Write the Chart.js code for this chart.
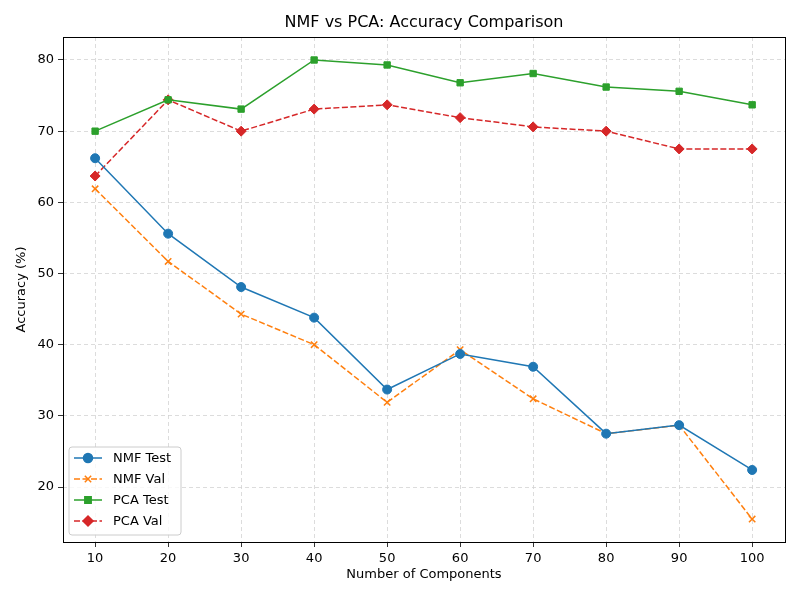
<!DOCTYPE html>
<html>
<head>
<title>NMF vs PCA</title>
<script src="https://cdn.jsdelivr.net/npm/chart.js@4.4.0/dist/chart.umd.min.js"></script>
<style>
  body { margin: 0; background: #fff; }
  canvas { display: block; }
</style>
</head>
<body>
<canvas id="myChart" width="800" height="600"></canvas>
<script>
    var components = [10, 20, 30, 40, 50, 60, 70, 80, 90, 100];
    var nmfTest = [66.2, 55.6, 48.1, 43.8, 33.7, 38.7, 36.9, 27.5, 28.7, 22.4];
    var nmfVal = [61.9, 51.7, 44.3, 40.0, 31.9, 39.3, 32.4, 27.5, 28.7, 15.5];
    var pcaTest = [70.0, 74.4, 73.1, 80.0, 79.3, 76.8, 78.1, 76.2, 75.6, 73.7];
    var pcaVal = [63.7, 74.4, 70.0, 73.1, 73.7, 71.9, 70.6, 70.0, 67.5, 67.5];
    var yTicks = [20, 30, 40, 50, 60, 70, 80];

    var FONT = "'DejaVu Sans', sans-serif";

    function pts(vals){
        return vals.map(function(v, i){ return {x: components[i], y: v}; });
    }

    var series = [
        {label: 'NMF Test', data: nmfTest, color: '#1f77b4', style: 'circle', dash: [], radius: 4.5},
        {label: 'NMF Val', data: nmfVal, color: '#ff7f0e', style: 'crossRot', dash: [6, 2.5], radius: 4.5},
        {label: 'PCA Test', data: pcaTest, color: '#2ca02c', style: 'rect', dash: [], radius: 4.5},
        {label: 'PCA Val', data: pcaVal, color: '#d62728', style: 'rectRot', dash: [6, 2.5], radius: 5}
    ];

    var datasets = series.map(function(s){
        return {
            label: s.label,
            data: pts(s.data),
            borderColor: s.color,
            backgroundColor: s.color,
            borderWidth: 1.5,
            borderDash: s.dash,
            pointStyle: s.style,
            pointRadius: s.radius,
            pointBorderWidth: s.style === 'crossRot' ? 1.5 : 1,
            pointBorderColor: s.color,
            pointBackgroundColor: s.color,
            fill: false,
            tension: 0
        };
    });

    // frame, title, legend drawn by hand to look like the original
    var extras = {
        id: 'extras',
        afterDraw: function(chart){
            var ctx = chart.ctx;
            var a = chart.chartArea;
            ctx.save();
            ctx.strokeStyle = '#000';
            ctx.lineWidth = 1;
            ctx.setLineDash([]);
            ctx.strokeRect(a.left + 0.5, a.top + 0.5, a.right - a.left, a.bottom - a.top);

            ctx.fillStyle = '#000';
            ctx.font = '16px ' + FONT;
            ctx.textAlign = 'center';
            ctx.textBaseline = 'middle';
            ctx.fillText('NMF vs PCA: Accuracy Comparison', (a.left + a.right) / 2, 23);

            // legend
            var bx = a.left + 6, by = a.bottom - 95, bw = 112, bh = 88;
            ctx.fillStyle = 'rgba(255,255,255,0.8)';
            ctx.strokeStyle = '#cccccc';
            ctx.beginPath();
            ctx.roundRect(bx, by, bw, bh, 3);
            ctx.fill();
            ctx.stroke();
            ctx.font = '13px ' + FONT;
            ctx.textAlign = 'left';
            series.forEach(function(s, i){
                var y = by + 11 + i * 21;
                ctx.strokeStyle = s.color;
                ctx.lineWidth = 1.5;
                ctx.setLineDash(s.dash);
                ctx.beginPath();
                ctx.moveTo(bx + 5, y);
                ctx.lineTo(bx + 33, y);
                ctx.stroke();
                ctx.setLineDash([]);
                ctx.fillStyle = s.color;
                Chart.helpers.drawPoint(ctx, {
                    pointStyle: s.style, radius: s.radius, rotation: 0,
                    borderWidth: s.style === 'crossRot' ? 1.5 : 1
                }, bx + 19, y);
                ctx.fillStyle = '#000';
                ctx.fillText(s.label, bx + 44, y + 1);
            });
            ctx.restore();
        }
    };

    var ctx = document.getElementById('myChart').getContext('2d');
    var myChart = new Chart(ctx, {
        type: 'line',
        data: {datasets: datasets},
        plugins: [extras],
        options: {
            responsive: false,
            animation: false,
            layout: {padding: {top: 37, right: 15, left: 10, bottom: 14}},
            plugins: {
                legend: {display: false},
                title: {display: false},
                tooltip: {enabled: false}
            },
            scales: {
                x: {
                    type: 'linear',
                    min: 5.6,
                    max: 104.5,
                    afterBuildTicks: function(axis){
                        axis.ticks = components.map(function(v){ return {value: v}; });
                    },
                    afterFit: function(axis){ axis.height = 44; },
                    ticks: {color: '#000', font: {family: FONT, size: 13}, padding: 4, maxRotation: 0},
                    grid: {color: '#d3d3d3', tickColor: '#000', tickLength: 5, tickBorderDash: [], lineWidth: 0.8},
                    border: {display: false, dash: [4, 3]},
                    title: {display: true, text: 'Number of Components', color: '#000', font: {family: FONT, size: 13}, padding: {top: 2}}
                },
                y: {
                    min: 12.28,
                    max: 83.23,
                    afterBuildTicks: function(axis){
                        axis.ticks = yTicks.map(function(v){ return {value: v}; });
                    },
                    afterFit: function(axis){ axis.width = 53; },
                    ticks: {color: '#000', font: {family: FONT, size: 13}, padding: 4},
                    grid: {color: '#d3d3d3', tickColor: '#000', tickLength: 5, tickBorderDash: [], lineWidth: 0.8},
                    border: {display: false, dash: [4, 3]},
                    title: {display: true, text: 'Accuracy (%)', color: '#000', font: {family: FONT, size: 13}, padding: {bottom: 2}}
                }
            }
        }
    });
</script>
</body>
</html>
